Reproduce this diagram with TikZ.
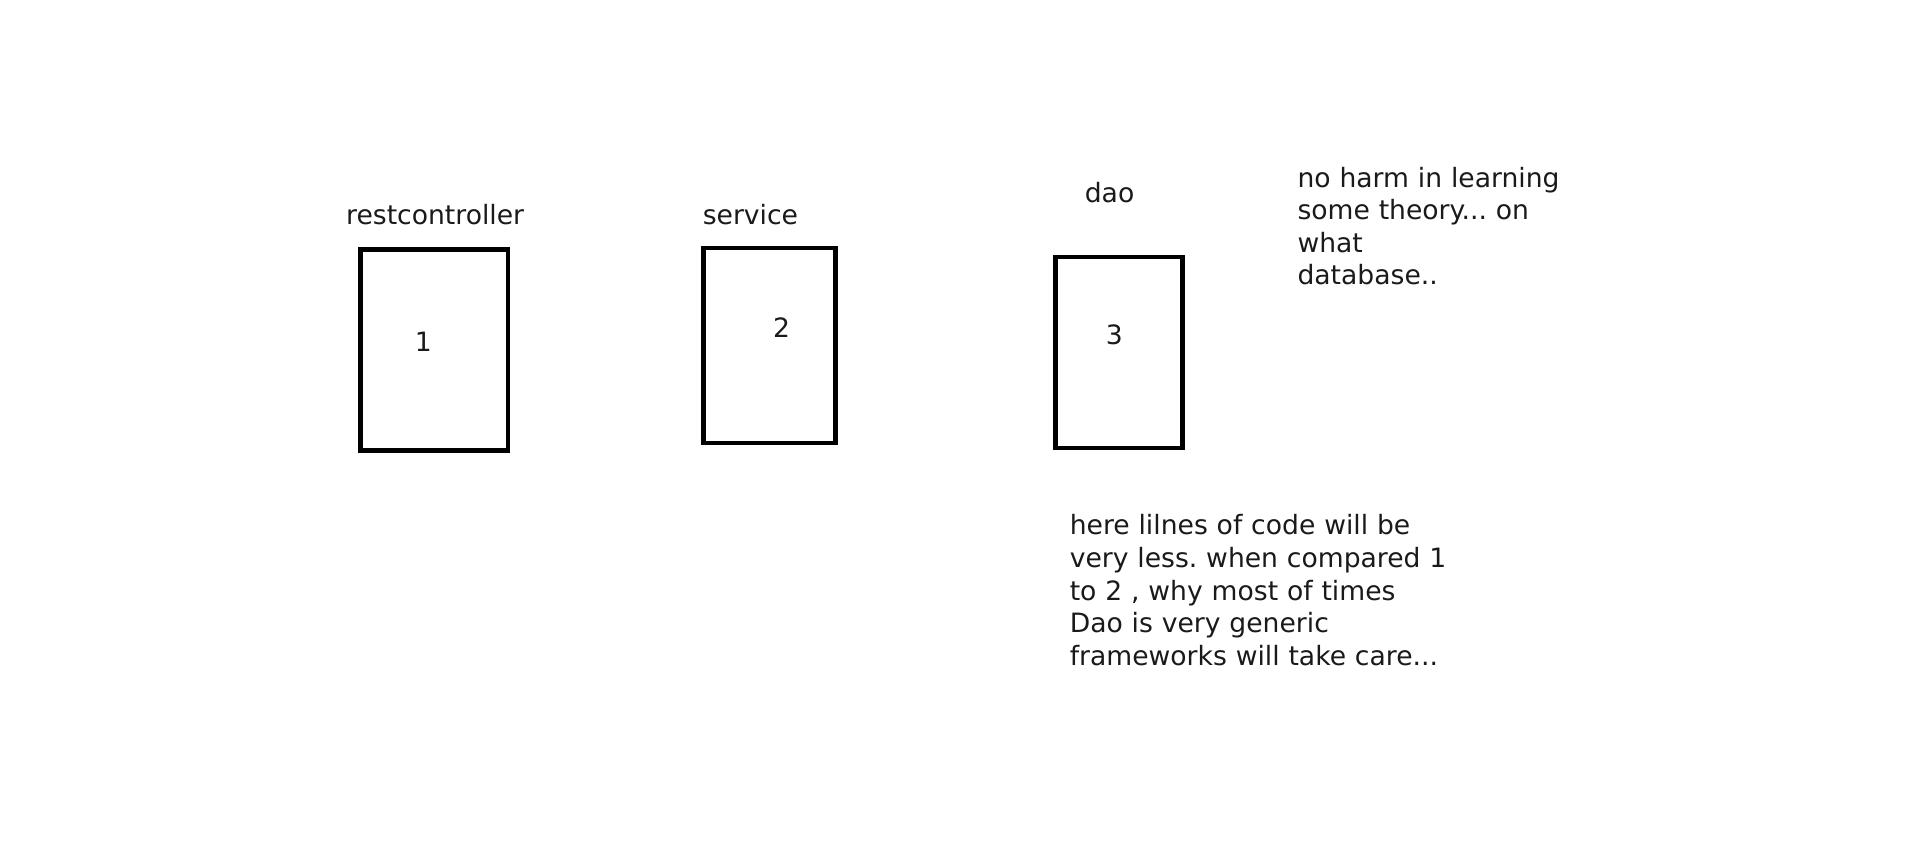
\documentclass[tikz,border=0pt]{standalone}
\usepackage{fontspec}
\setmainfont{DejaVu Sans}
\usetikzlibrary{positioning}
\definecolor{inkgray}{HTML}{1A1A1A}
\frenchspacing
\tikzset{
	layerbox/.style={draw=black, line width=4.5pt, inner sep=0pt},
	layername/.style={anchor=base west, inner sep=0pt, text=inkgray},
	notetext/.style={anchor=base west, inner sep=0pt, text=inkgray, text width=480pt, align=left}
}

\begin{document}
\begin{tikzpicture}[x=1pt, y=-1pt, font=\fontsize{26.6}{32.6}\selectfont]
		%%%%% START %%%%%
		\useasboundingbox (0, 0) rectangle (1914, 847);
		
		\node[layerbox, minimum width=147.5pt, minimum height=201pt] (rest) at (434, 350.2) {};
		\node[layerbox, minimum width=132.2pt, minimum height=195pt] (serv) at (769.6, 345.4) {};
		\node[layerbox, minimum width=127.2pt, minimum height=191pt] (dao) at (1119, 352.4) {};
		
		\node[layername] (restname) at (346, 224) {restcontroller};
		\node[layername] (servname) at (702.6, 224) {service};
		\node[layername] (daoname) at (1084.6, 202) {dao};
		
		\node[layername] (restnum) at (414.6, 351.6) {1};
		\node[layername] (servnum) at (772.8, 337.8) {2};
		\node[layername] (daonum) at (1105.6, 344.8) {3};
		
		\node[notetext] (theory) at (1297.3, 187) {no harm in learning\\ some theory... on\\ what\\ database..};
		\node[notetext] (lessnote) at (1069.6, 534.8) {here lilnes of code will be\\ very less. when compared 1\\ to 2 , why most of times\\ Dao is very generic\\ frameworks will take care...};
		%%%%% END %%%%%
	\end{tikzpicture}
\end{document}
